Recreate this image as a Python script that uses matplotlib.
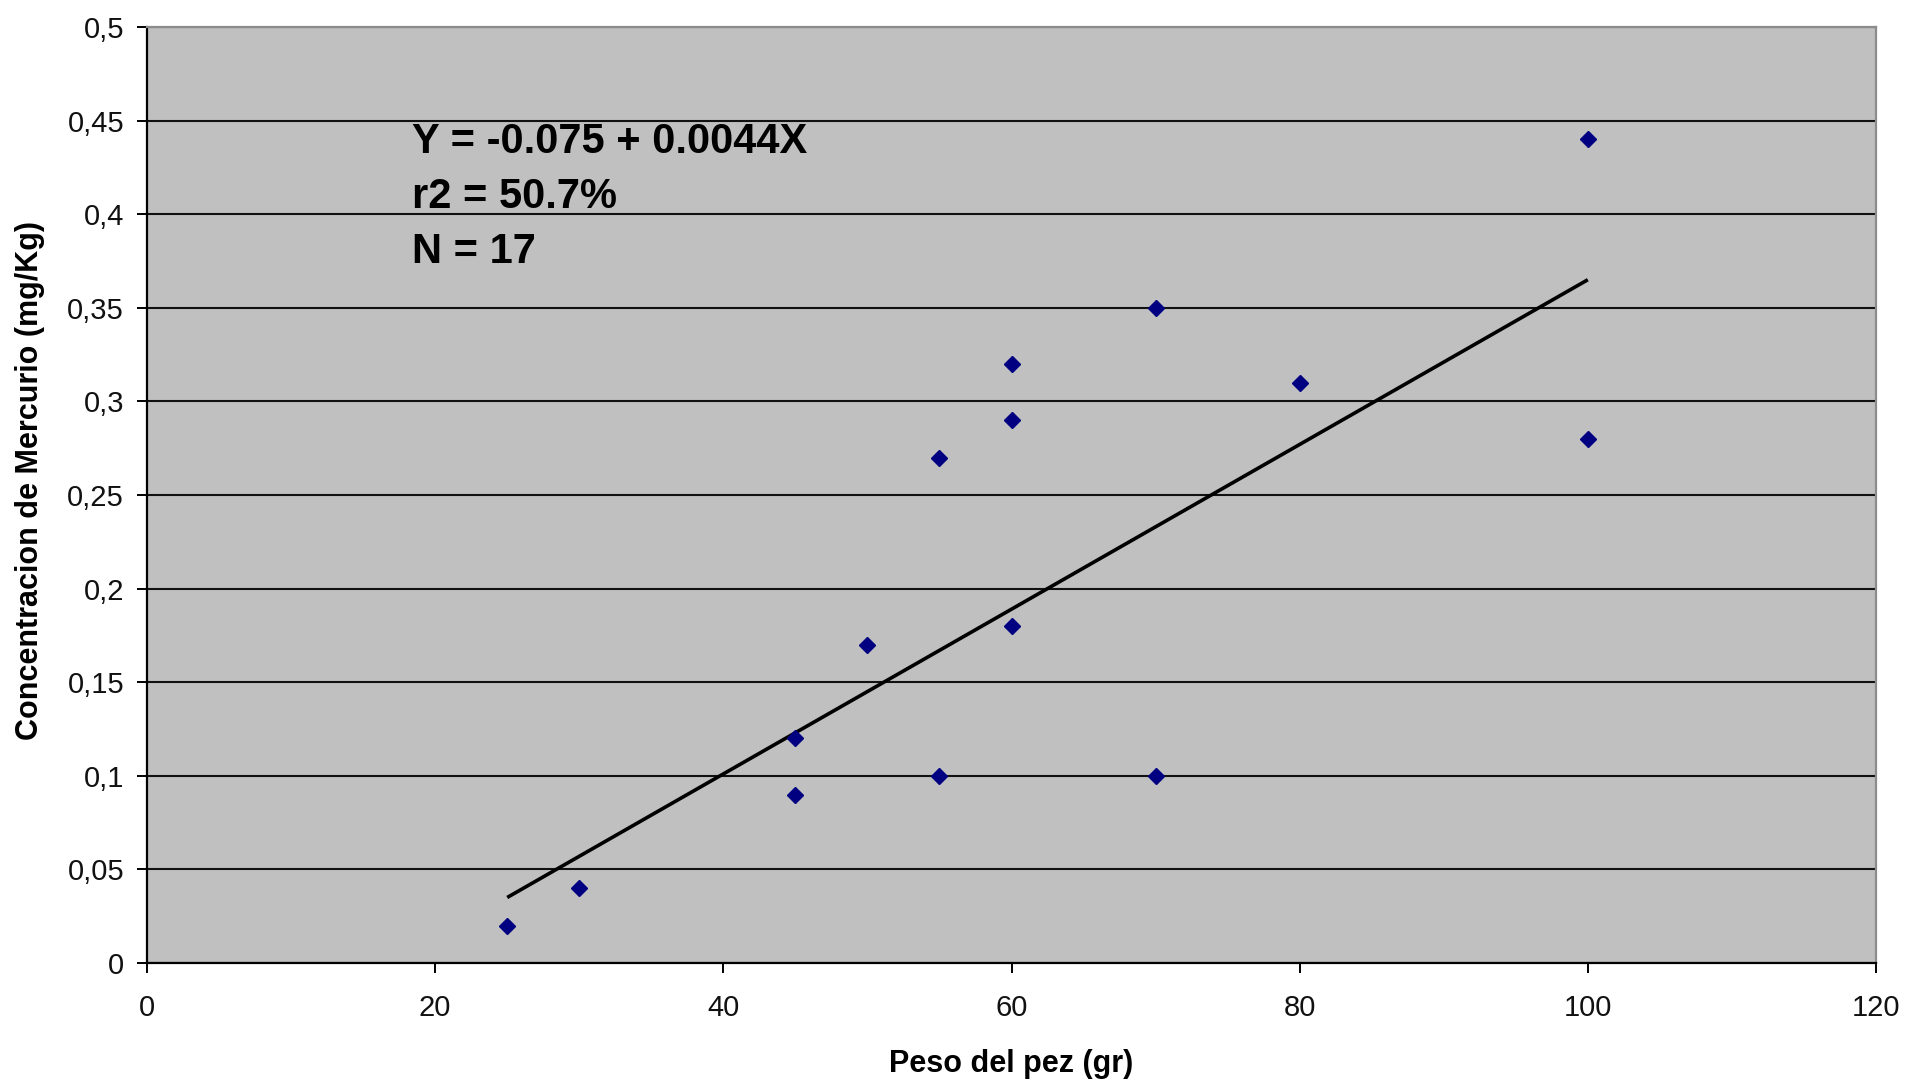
import numpy as np
import matplotlib
matplotlib.use("Agg")
import matplotlib.pyplot as plt

# Fish weight (g) and mercury concentration (mg/Kg)
peso = [25, 30, 45, 45, 50, 55, 55, 60, 60, 60, 70, 70, 80, 100, 100]
mercurio = [0.02, 0.04, 0.12, 0.09, 0.17, 0.27, 0.10, 0.32, 0.29, 0.18,
            0.35, 0.10, 0.31, 0.44, 0.28]

# Fitted regression
intercepto = -0.075
pendiente = 0.0044
r2 = 50.7
n_muestras = 17

x_ticks = [0, 20, 40, 60, 80, 100, 120]
y_ticks = [0, 0.05, 0.1, 0.15, 0.2, 0.25, 0.3, 0.35, 0.4, 0.45, 0.5]
y_tick_labels = ["0", "0,05", "0,1", "0,15", "0,2", "0,25", "0,3", "0,35",
                 "0,4", "0,45", "0,5"]

plt.rcParams['font.family'] = ['Liberation Sans', 'DejaVu Sans']
tick_family = ['Liberation Sans Narrow', 'Liberation Sans', 'DejaVu Sans']

fig = plt.figure(figsize=(19.05, 10.83), dpi=100)
fig.patch.set_facecolor('white')
ax = fig.add_axes([147 / 1905, 1 - 963 / 1083, (1876 - 147) / 1905, (963 - 27) / 1083])
ax.set_facecolor('#c0c0c0')

ax.set_xlim(0, 120)
ax.set_ylim(0, 0.5)
ax.set_xticks(x_ticks)
ax.set_yticks(y_ticks)
ax.set_yticklabels(y_tick_labels)

# horizontal gridlines
ax.yaxis.grid(True, color='#111111', linewidth=1.5)
ax.xaxis.grid(False)
ax.set_axisbelow(True)

# regression line over the observed weight range
xr = np.array([min(peso), max(peso)])
ax.plot(xr, intercepto + pendiente * xr, color='black', linewidth=2.6,
        solid_capstyle='butt', zorder=3)

ax.plot(peso, mercurio, linestyle='none', marker='D', markersize=8.5,
        color='#000080', markeredgecolor='#000080', zorder=4)

for s in ['left', 'bottom']:
    ax.spines[s].set_color('black')
    ax.spines[s].set_linewidth(1.6)
for s in ['top', 'right']:
    ax.spines[s].set_color('#8c8c8c')
    ax.spines[s].set_linewidth(1.6)

ax.tick_params(axis='both', direction='out', length=7.5, width=1.4,
               color='black', labelcolor='#111111')
ax.tick_params(axis='x', pad=15)
ax.tick_params(axis='y', pad=9)
for lbl in ax.get_xticklabels() + ax.get_yticklabels():
    lbl.set_fontfamily(tick_family)
    lbl.set_fontsize(21)

ax.set_xlabel("Peso del pez (gr)", fontsize=22, fontweight='bold')
ax.set_ylabel("Concentracion de Mercurio (mg/Kg)", fontsize=22,
              fontweight='bold')
ax.yaxis.set_label_coords(-0.059, 0.516)
ax.xaxis.set_label_coords(0.5, -0.092)

lineas = [
    f"Y = {intercepto:.3f} + {pendiente:.4f}X",
    f"r2 = {r2:.1f}%",
    f"N = {n_muestras}",
]
for i, t in enumerate(lineas):
    ax.text(18.4, 0.4385 - i * 0.0294, t, fontsize=30, fontweight='bold',
            va='center', ha='left', color='black', zorder=5)

fig.savefig("out.png", dpi=100, facecolor='white')
